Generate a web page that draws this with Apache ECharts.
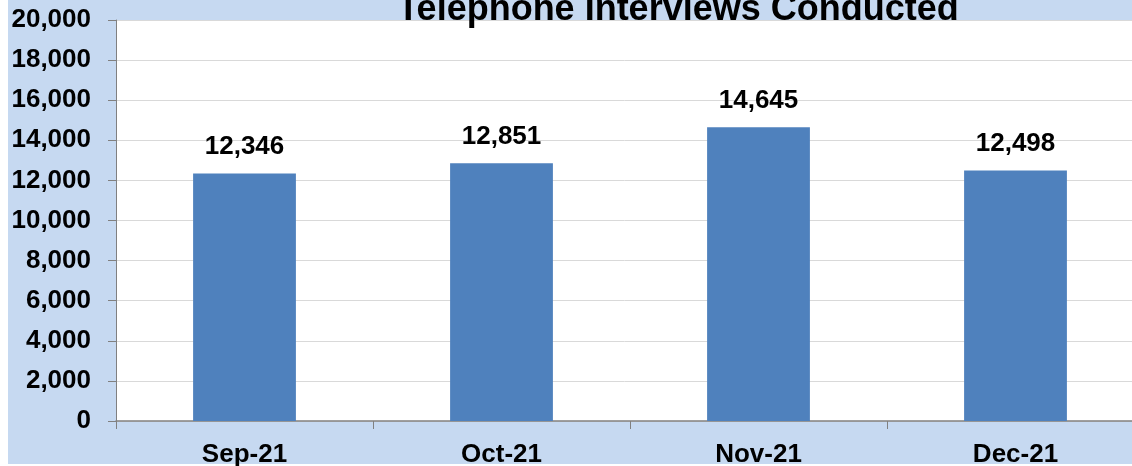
<!DOCTYPE html>
<html>
<head>
<meta charset="utf-8">
<script src="https://cdn.jsdelivr.net/npm/echarts@6/dist/echarts.min.js"></script>
<style>
html,body{margin:0;padding:0;background:#ffffff;}
#chart{width:1132px;height:466px;}
</style>
</head>
<body>
<div id="chart"></div>
<script>
const titleText = 'Telephone Interviews Conducted';
const categories = ['Sep-21', 'Oct-21', 'Nov-21', 'Dec-21'];
const interviews = [12346, 12851, 14645, 12498];
const yTicks = [0, 2000, 4000, 6000, 8000, 10000, 12000, 14000, 16000, 18000, 20000];

const FONT = 'Arial, "Liberation Sans", sans-serif';
function fmt(v){ return String(v).replace(/\B(?=(\d{3})+(?!\d))/g, ','); }

const chart = echarts.init(document.getElementById('chart'), null, {renderer:'canvas'});
chart.setOption({
  backgroundColor: '#ffffff',
  animation: false,
  graphic: [{
    type: 'rect', z: -10, silent: true,
    shape: {x: 8, y: 0, width: 1124, height: 464},
    style: {fill: '#C6D9F1'}
  }],
  title: {
    text: titleText,
    left: 673, top: -13,
    textAlign: 'center',
    textStyle: {fontFamily: FONT, fontWeight: 'bold', fontSize: 36, color: '#000000'}
  },
  grid: {
    left: 116, top: 20, width: 1028, height: 401,
    show: true, backgroundColor: '#ffffff', borderWidth: 0,
    containLabel: false,
    outerBoundsMode: 'none'
  },
  xAxis: {
    type: 'category',
    data: categories,
    axisLine: {show: true, lineStyle: {color: '#808080', width: 1.5}},
    axisTick: {show: true, length: 8, alignWithLabel: false, lineStyle: {color: '#808080'}},
    axisLabel: {margin: 21, fontFamily: FONT, fontWeight: 'bold', fontSize: 26, color: '#000000'},
    splitLine: {show: false}
  },
  yAxis: {
    type: 'value',
    min: yTicks[0], max: yTicks[yTicks.length - 1], interval: yTicks[1] - yTicks[0],
    axisLine: {show: true, lineStyle: {color: '#808080', width: 1}},
    axisTick: {show: true, length: 8, lineStyle: {color: '#808080'}},
    axisLabel: {margin: 25, fontFamily: FONT, fontWeight: 'bold', fontSize: 26, color: '#000000',
      formatter: function(v){ return fmt(v); }},
    splitLine: {show: true, lineStyle: {color: '#D9D9D9', width: 1}}
  },
  series: [{
    type: 'bar',
    data: interviews,
    barWidth: '40%',
    itemStyle: {color: '#4F81BD'},
    label: {
      show: true, position: 'top', distance: 14,
      fontFamily: FONT, fontWeight: 'bold', fontSize: 26, color: '#000000',
      formatter: function(p){ return fmt(p.value); }
    }
  }]
});
</script>
</body>
</html>
